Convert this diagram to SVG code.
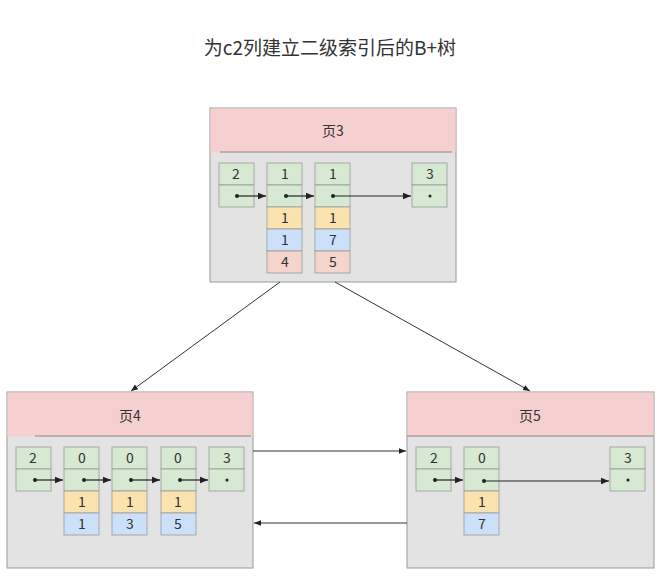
<svg xmlns="http://www.w3.org/2000/svg" width="659" height="577" viewBox="0 0 659 577">
<defs>
<style>
text{font-family:"Noto Sans CJK SC","Liberation Sans",sans-serif;fill:#333;text-anchor:middle}
.t{font-size:14px}
.page{fill:#e3e3e3;stroke:#999;stroke-width:1}
.hdr{fill:#f6d0d1}
.g{fill:#d7e8d3;stroke:#999;stroke-width:0.8}
.y{fill:#fbe3b0;stroke:#999;stroke-width:0.8}
.b{fill:#cde0fa;stroke:#999;stroke-width:0.8}
.r{fill:#f4d4cc;stroke:#999;stroke-width:0.8}
.ln{stroke:#222;stroke-width:1.2;fill:none}
.thin{stroke:#333;stroke-width:1;fill:none}
</style>
<marker id="ah" viewBox="0 0 10 10" refX="10" refY="5" markerWidth="7" markerHeight="7" orient="auto"><path d="M0,1 L10,5 L0,9 z" fill="#222"/></marker>
</defs>
<rect width="659" height="577" fill="#fff"/>
<text x="330" y="55" style="font-size:19px">为c2列建立二级索引后的B+树</text>

<g id="page3">
<rect class="page" x="210" y="108" width="246" height="174"/>
<rect class="hdr" x="210.5" y="108.5" width="245" height="44"/>
<line x1="220" y1="152" x2="452" y2="152" stroke="#888"/>
<text class="t" x="333" y="136">页3</text>
<rect class="g" x="219" y="163" width="35" height="22"/><rect class="g" x="219" y="185" width="35" height="22"/>
<text class="t" x="236" y="179">2</text><circle cx="237" cy="196" r="2" fill="#222"/>
<rect class="g" x="267" y="163" width="35" height="22"/><rect class="g" x="267" y="185" width="35" height="22"/>
<rect class="y" x="267" y="207" width="35" height="22"/><rect class="b" x="267" y="229" width="35" height="22"/><rect class="r" x="267" y="251" width="35" height="22"/>
<text class="t" x="285" y="179">1</text><circle cx="286" cy="196" r="2" fill="#222"/>
<text class="t" x="285" y="223">1</text><text class="t" x="285" y="245">1</text><text class="t" x="285" y="267">4</text>
<rect class="g" x="315" y="163" width="35" height="22"/><rect class="g" x="315" y="185" width="35" height="22"/>
<rect class="y" x="315" y="207" width="35" height="22"/><rect class="b" x="315" y="229" width="35" height="22"/><rect class="r" x="315" y="251" width="35" height="22"/>
<text class="t" x="333" y="179">1</text><circle cx="333" cy="196" r="2" fill="#222"/>
<text class="t" x="333" y="223">1</text><text class="t" x="333" y="245">7</text><text class="t" x="333" y="267">5</text>
<rect class="g" x="412" y="163" width="35" height="22"/><rect class="g" x="412" y="185" width="35" height="22"/>
<text class="t" x="430" y="179">3</text><circle cx="430" cy="196" r="1.5" fill="#222"/>
</g>

<g id="page4">
<rect class="page" x="7" y="392" width="246" height="176"/>
<rect class="hdr" x="7.5" y="392.5" width="245" height="44"/>
<line x1="35" y1="436" x2="251" y2="436" stroke="#888"/>
<text class="t" x="130" y="421">页4</text>
<rect class="g" x="16" y="447" width="35" height="22"/><rect class="g" x="16" y="469" width="35" height="22"/>
<text class="t" x="33" y="463">2</text><circle cx="35" cy="480" r="2" fill="#222"/>
<rect class="g" x="64" y="447" width="35" height="22"/><rect class="g" x="64" y="469" width="35" height="22"/>
<rect class="y" x="64" y="491" width="35" height="22"/><rect class="b" x="64" y="513" width="35" height="22"/>
<text class="t" x="82" y="463">0</text><circle cx="84" cy="480" r="2" fill="#222"/>
<text class="t" x="82" y="507">1</text><text class="t" x="82" y="529">1</text>
<rect class="g" x="112" y="447" width="35" height="22"/><rect class="g" x="112" y="469" width="35" height="22"/>
<rect class="y" x="112" y="491" width="35" height="22"/><rect class="b" x="112" y="513" width="35" height="22"/>
<text class="t" x="130" y="463">0</text><circle cx="131" cy="480" r="2" fill="#222"/>
<text class="t" x="130" y="507">1</text><text class="t" x="130" y="529">3</text>
<rect class="g" x="161" y="447" width="35" height="22"/><rect class="g" x="161" y="469" width="35" height="22"/>
<rect class="y" x="161" y="491" width="35" height="22"/><rect class="b" x="161" y="513" width="35" height="22"/>
<text class="t" x="178" y="463">0</text><circle cx="180" cy="480" r="2" fill="#222"/>
<text class="t" x="178" y="507">1</text><text class="t" x="178" y="529">5</text>
<rect class="g" x="209" y="447" width="35" height="22"/><rect class="g" x="209" y="469" width="35" height="22"/>
<text class="t" x="227" y="463">3</text><circle cx="227" cy="480" r="1.5" fill="#222"/>
</g>

<g id="page5">
<rect class="page" x="407" y="392" width="247" height="176"/>
<rect class="hdr" x="407.5" y="392.5" width="246" height="44"/>
<line x1="407" y1="436" x2="654" y2="436" stroke="#888"/>
<text class="t" x="530" y="421">页5</text>
<rect class="g" x="416" y="447" width="35" height="22"/><rect class="g" x="416" y="469" width="35" height="22"/>
<text class="t" x="434" y="463">2</text><circle cx="435" cy="480" r="2" fill="#222"/>
<rect class="g" x="464" y="447" width="35" height="22"/><rect class="g" x="464" y="469" width="35" height="22"/>
<rect class="y" x="464" y="491" width="35" height="22"/><rect class="b" x="464" y="513" width="35" height="22"/>
<text class="t" x="482" y="463">0</text><circle cx="484" cy="481" r="2" fill="#222"/>
<text class="t" x="482" y="507">1</text><text class="t" x="482" y="529">7</text>
<rect class="g" x="610" y="447" width="35" height="22"/><rect class="g" x="610" y="469" width="35" height="22"/>
<text class="t" x="628" y="463">3</text><circle cx="628" cy="480" r="1.5" fill="#222"/>
</g>

<g id="connectors">
<line class="ln" x1="237" y1="196" x2="266" y2="196" marker-end="url(#ah)"/>
<line class="ln" x1="286" y1="196" x2="314" y2="196" marker-end="url(#ah)"/>
<line class="ln" x1="333" y1="196" x2="411" y2="196" marker-end="url(#ah)"/>
<line class="ln" x1="35" y1="480" x2="63" y2="480" marker-end="url(#ah)"/>
<line class="ln" x1="84" y1="480" x2="111" y2="480" marker-end="url(#ah)"/>
<line class="ln" x1="131" y1="480" x2="160" y2="480" marker-end="url(#ah)"/>
<line class="ln" x1="180" y1="480" x2="208" y2="480" marker-end="url(#ah)"/>
<line class="ln" x1="435" y1="480" x2="463" y2="480" marker-end="url(#ah)"/>
<line class="ln" x1="484" y1="481" x2="609" y2="481" marker-end="url(#ah)"/>
<line class="thin" x1="280" y1="282" x2="131" y2="391" marker-end="url(#ah)"/>
<line class="thin" x1="335" y1="282" x2="530" y2="391" marker-end="url(#ah)"/>
<line class="thin" x1="253" y1="451" x2="406" y2="451" marker-end="url(#ah)"/>
<line class="thin" x1="407" y1="523" x2="254" y2="523" marker-end="url(#ah)"/>
</g>
</svg>
